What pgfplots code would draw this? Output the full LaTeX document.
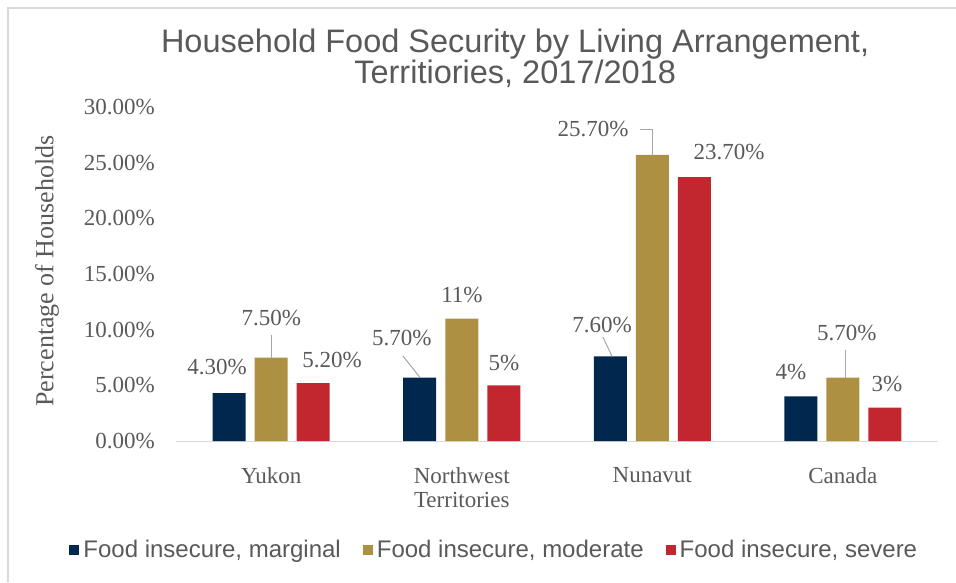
\documentclass[border=0pt]{standalone}
\usepackage{pgfplots}
\pgfplotsset{compat=1.18}
\usepackage{fontspec}
\setmainfont{Liberation Serif}
\newfontfamily\sans{Liberation Sans}
\definecolor{navy}{HTML}{00284F}
\definecolor{gold}{HTML}{AD9042}
\definecolor{crimson}{HTML}{C2262F}
\definecolor{txt}{HTML}{595959}
\definecolor{axisgray}{HTML}{D9D9D9}
\definecolor{leader}{HTML}{A6A6A6}

\begin{document}
\begin{tikzpicture}
\path[use as bounding box] (-176pt,-141pt) rectangle (780pt,441pt);
\draw[axisgray, line width=2pt] (-168pt,-141pt) -- (-168pt,433pt) -- (780pt,433pt);
\begin{axis}[
  at={(0pt,0pt)}, anchor=south west,
  scale only axis, width=762pt, height=334pt,
  ybar=9pt, bar width=33pt,
  xmin=-0.5, xmax=3.5, ymin=0, ymax=30,
  enlargelimits=false,
  axis x line*=bottom, axis y line*=left,
  x axis line style={axisgray, line width=1pt},
  y axis line style={draw=none},
  xtick={0,1,2,3},
  xticklabels={Yukon, {Northwest\\Territories}, Nunavut, Canada},
  xtick style={draw=none},
  extra x ticks={-0.5,0.5,1.5,2.5,3.5},
  extra x tick labels={},
  extra x tick style={major tick length=7pt, tick align=outside,
    tick style={axisgray, line width=1pt}},
  ytick={0,5,...,30},
  ytick style={draw=none},
  yticklabel={\pgfmathprintnumber[fixed,fixed zerofill,precision=2]{\tick}\%},
  /pgf/number format/assume math mode=true,
  tick label style={text=txt, font=\fontsize{23}{24}\selectfont},
  yticklabel style={anchor=east, inner sep=0pt, xshift=-21pt},
  xticklabel style={anchor=north, inner sep=0pt, yshift=-22pt, align=center},
  ylabel={Percentage of Households},
  every axis y label/.style={at={(-129pt,170pt)}, rotate=90, anchor=center,
    text=txt, font=\fontsize{26}{28}\selectfont},
  legend columns=3,
  legend style={draw=none, fill=none, text=txt,
    font=\sans\fontsize{24}{26}\selectfont,
    at={(axis description cs:0.419,-0.326)}, anchor=center,
    /tikz/every even column/.append style={column sep=18pt},
    nodes={inner xsep=4pt}},
  legend image code/.code={\fill[#1] (0pt,-5pt) rectangle (10pt,5pt);},
  clip=false,
]
\addplot[fill=navy, draw=none] coordinates {(0,4.3) (1,5.7) (2,7.6) (3,4)};
\addlegendentry{Food insecure, marginal}
\addplot[fill=gold, draw=none] coordinates {(0,7.5) (1,11) (2,25.7) (3,5.7)};
\addlegendentry{Food insecure, moderate}
\addplot[fill=crimson, draw=none] coordinates {(0,5.2) (1,5) (2,23.7) (3,3)};
\addlegendentry{Food insecure, severe}

% data labels
\tikzset{lbl/.style={text=txt, font=\fontsize{23}{24}\selectfont, inner sep=0pt}}
\node[lbl] at (axis cs:-0.285,6.65) {4.30\%};
\node[lbl] at (axis cs:0.0,11.05) {7.50\%};
\node[lbl] at (axis cs:0.319,7.28) {5.20\%};
\node[lbl] at (axis cs:0.686,9.25) {5.70\%};
\node[lbl] at (axis cs:1.001,13.11) {11\%};
\node[lbl] at (axis cs:1.222,7.0) {5\%};
\node[lbl] at (axis cs:1.736,10.42) {7.60\%};
\node[lbl] at (axis cs:1.689,28.02) {25.70\%};
\node[lbl] at (axis cs:2.403,25.96) {23.70\%};
\node[lbl] at (axis cs:2.728,6.2) {4\%};
\node[lbl] at (axis cs:3.022,9.70) {5.70\%};
\node[lbl] at (axis cs:3.232,5.12) {3\%};
% leader lines
\draw[leader, line width=1pt] (axis cs:0.0,9.52) -- (axis cs:0.0,7.5);
\draw[leader, line width=1pt] (axis cs:0.692,7.63) -- (axis cs:0.781,5.7);
\draw[leader, line width=1pt] (axis cs:1.936,28.02) -- (axis cs:1.999,28.02) -- (axis cs:1.999,25.7);
\draw[leader, line width=1pt] (axis cs:1.741,9.34) -- (axis cs:1.789,7.6);
\draw[leader, line width=1pt] (axis cs:3.017,8.17) -- (axis cs:3.017,5.7);

\node[text=txt, font=\sans\fontsize{32.5}{29}\selectfont, align=center]
  at (axis description cs:0.445,1.145)
  {Household Food Security by Living Arrangement,\\Territiories, 2017/2018};
\end{axis}
\end{tikzpicture}
\end{document}
